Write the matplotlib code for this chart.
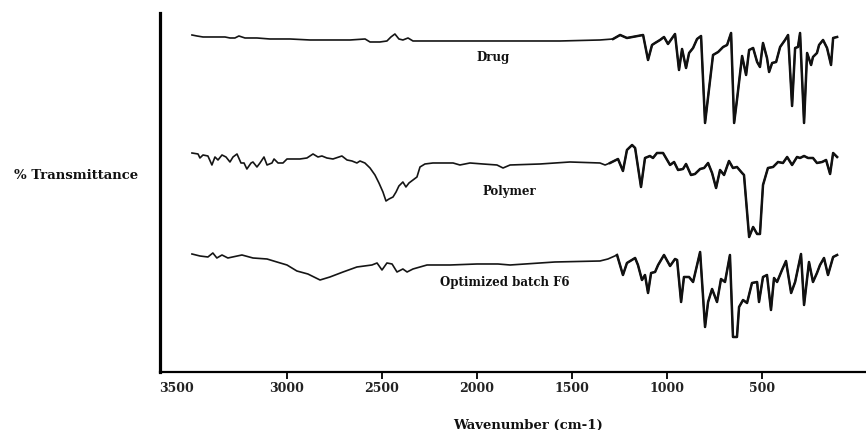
import matplotlib
matplotlib.use('Agg')
import matplotlib.pyplot as plt
import matplotlib.transforms as mtransforms

# FTIR spectra (wavenumber in cm-1, transmittance in stacked display units)
drug_wn = [3500, 3474, 3442, 3405, 3363, 3326, 3300, 3274, 3253, 3221, 3158, 3090,
           2984, 2879, 2774, 2668, 2589, 2563, 2511, 2474, 2453, 2432, 2411, 2390,
           2363, 2337, 2142, 1969, 1826, 1563, 1353, 1284, 1247, 1211, 1126, 1100,
           1079, 1063, 1037, 1016, 995, 958, 937, 921, 900, 884, 863, 842, 821, 800,
           784, 758, 731, 705, 684, 663, 647, 632, 605, 584, 568, 547, 526, 511, 495,
           474, 463, 447, 426, 405, 379, 363, 342, 326, 311, 300, 279, 263, 242, 232,
           211, 200, 179, 158, 137, 126, 105]
drug_t = [337, 336, 335, 335, 335, 335, 334, 334, 336, 334, 334, 333,
          333, 332, 332, 332, 333, 330, 330, 331, 335, 338, 333, 332,
          334, 331, 331, 331, 331, 331, 332, 333, 337, 334, 337, 312,
          327, 329, 332, 335, 328, 338, 302, 323, 304, 319, 324, 333, 336, 249,
          275, 317, 320, 325, 327, 339, 249, 272, 316, 297, 322, 324, 310, 305, 329,
          314, 300, 309, 310, 325, 332, 337, 266, 324, 325, 339, 249, 319, 307, 315,
          319, 327, 332, 324, 307, 334, 335]

polymer_wn = [3500, 3468, 3458, 3442, 3416, 3395, 3379, 3363, 3342, 3321, 3300, 3284,
              3263, 3242, 3226, 3211, 3189, 3179, 3158, 3142, 3121, 3105, 3079, 3068,
              3047, 3021, 3000, 2932, 2895, 2863, 2837, 2816, 2790, 2758, 2711, 2684,
              2658, 2632, 2616, 2590, 2563, 2537, 2516, 2495, 2479, 2463, 2442, 2426,
              2411, 2390, 2374, 2358, 2337, 2316, 2300, 2274, 2232, 2179, 2126, 2090,
              2037, 1969, 1895, 1863, 1826, 1668, 1511, 1353, 1326, 1300, 1258, 1232,
              1211, 1184, 1168, 1137, 1116, 1090, 1074, 1053, 1021, 984, 963, 942, 916,
              900, 874, 853, 826, 805, 784, 763, 742, 721, 700, 674, 653, 632, 605, 595,
              568, 547, 526, 511, 495, 469, 442, 416, 390, 368, 342, 316, 300, 279, 258,
              232, 211, 184, 163, 142, 126, 105]
polymer_t = [219, 218, 214, 217, 216, 207, 215, 212, 217, 215, 210, 215,
             218, 209, 209, 203, 209, 210, 205, 209, 215, 207, 209, 213,
             209, 209, 213, 213, 214, 218, 215, 216, 214, 213, 216, 212,
             211, 209, 211, 209, 204, 197, 189, 180, 171, 173, 175, 180,
             186, 190, 185, 189, 192, 195, 205, 208, 209, 209, 209, 207,
             209, 208, 207, 204, 207, 208, 210, 209, 207, 209, 213, 201,
             222, 227, 224, 185, 214, 216, 214, 219, 219, 207, 210, 202, 203,
             208, 197, 198, 203, 204, 209, 199, 184, 202, 197, 211, 204, 205, 199, 197,
             135, 145, 138, 138, 187, 204, 205, 210, 209, 215, 207, 215, 214, 216, 214,
             214, 209, 210, 212, 198, 219, 215]

f6_wn = [3500, 3458, 3416, 3390, 3369, 3342, 3311, 3237, 3179, 3105, 3053, 3000,
         2948, 2890, 2826, 2774, 2705, 2632, 2553, 2526, 2500, 2474, 2447, 2421,
         2390, 2368, 2337, 2263, 2142, 2000, 1890, 1826, 1590, 1353, 1311, 1263,
         1232, 1211, 1168, 1153, 1132, 1116, 1100, 1084, 1063, 1047, 1016, 984,
         958, 947, 926, 911, 884, 863, 842, 826, 800, 784, 763, 737, 716, 695, 669,
         653, 632, 621, 600, 579, 553, 526, 516, 495, 474, 453, 437, 421, 395, 374,
         347, 326, 295, 279, 253, 232, 211, 195, 174, 153, 126, 105]
f6_t = [118, 116, 115, 119, 114, 117, 114, 117, 114, 113, 110, 107,
        101, 98, 92, 95, 100, 105, 107, 109, 102, 109, 108, 100,
        103, 100, 103, 107, 107, 108, 108, 107, 110, 111, 113, 117,
        97, 109, 114, 107, 92, 97, 79, 99, 100, 107, 117, 106,
        113, 112, 70, 95, 95, 90, 107, 120, 45, 70, 83, 70, 93, 90, 117,
        35, 35, 65, 72, 69, 89, 90, 70, 95, 97, 62, 94, 90, 102, 111,
        79, 90, 118, 67, 110, 90, 99, 107, 114, 97, 115, 117]

series_names = ['Drug', 'Polymer', 'Optimized batch F6']
label_wn = [1916, 1832, 1853]
label_t = [314, 180, 89]

tick_values = [3500, 3000, 2500, 2000, 1500, 1000, 500]

fig = plt.figure(figsize=(8.66, 4.30), dpi=100)
ax = fig.add_axes([0.1848, 0.1349, 0.8152, 0.8349])

# thin line over the whole range, heavier stroke over the fingerprint region
for wn, t in [(drug_wn, drug_t), (polymer_wn, polymer_t), (f6_wn, f6_t)]:
    ax.plot(wn, t, color='#151515', lw=1.2, solid_joinstyle='round')
    fp = [i for i, w in enumerate(wn) if w <= 1300]
    ax.plot([wn[i] for i in fp], [t[i] for i in fp], color='#111111', lw=1.8,
            solid_joinstyle='round')

for name, x, y in zip(series_names, label_wn, label_t):
    ax.text(x, y, name, ha='center', va='center', family='DejaVu Serif',
            fontweight='bold', fontsize=8.5, color='#111111')

ax.set_xlim(3668, -47)
ax.set_ylim(0, 359)

for side in ['top', 'right']:
    ax.spines[side].set_visible(False)
ax.spines['left'].set_linewidth(2.3)
ax.spines['bottom'].set_linewidth(1.6)
ax.set_yticks([])

ax.set_xticks(tick_values)
ax.set_xticklabels([str(v) for v in tick_values], family='DejaVu Serif',
                   fontweight='bold', fontsize=9, color='#222222')
ax.tick_params(axis='x', direction='out', length=5, width=1.3, pad=2)
first = ax.xaxis.get_major_ticks()[0]
first.tick1line.set_visible(False)
shift = mtransforms.ScaledTranslation(-0.15, 0, fig.dpi_scale_trans)
first.label1.set_transform(first.label1.get_transform() + shift)

fig.text(528 / 866, 1 - 425 / 430, 'Wavenumber (cm-1)', ha='center', va='center',
         family='DejaVu Serif', fontweight='bold', fontsize=9.5, color='#111111')
fig.text(76 / 866, 1 - 175 / 430, '% Transmittance', ha='center', va='center',
         family='DejaVu Serif', fontweight='bold', fontsize=9.5, color='#111111')

fig.savefig('out.png', dpi=100)
